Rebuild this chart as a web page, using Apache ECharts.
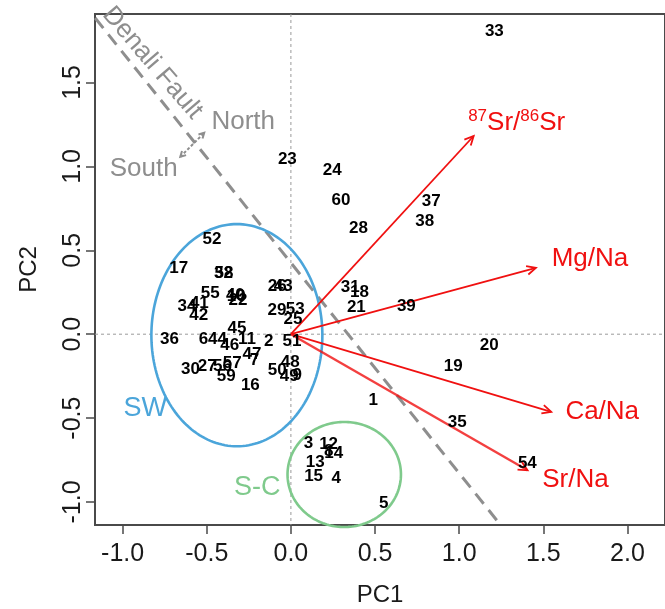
<!DOCTYPE html>
<html><head><meta charset="utf-8">
<script src="https://cdn.jsdelivr.net/npm/echarts@6/dist/echarts.min.js"></script>
<style>html,body{margin:0;padding:0;background:#fff}#c{width:665px;height:609px}</style>
</head><body><div id="c"></div>
<script>
// ---- data ----
const sampleIds = ['33','23','24','60','37','38','28','31','18','21','39','20','19','35','54','1','5','3','12','14','8','13','15','4',
  '52','17','32','58','55','34','41','42','40','10','22','26','43','29','53','25','45','36','6','44','46','11','2','51','47','7',
  '30','27','56','57','59','16','48','50','49','9'];
const samplePC1 = [1.209,-0.021,0.246,0.298,0.834,0.795,0.402,0.353,0.408,0.389,0.686,1.179,0.965,0.989,1.405,0.489,0.551,0.105,0.224,0.254,0.225,0.145,0.135,0.270,
  -0.469,-0.667,-0.400,-0.398,-0.479,-0.617,-0.544,-0.548,-0.330,-0.325,-0.314,-0.081,-0.045,-0.083,0.026,0.012,-0.320,-0.721,-0.519,-0.436,-0.364,-0.261,-0.132,0.006,-0.231,-0.216,
  -0.597,-0.497,-0.407,-0.348,-0.384,-0.241,-0.004,-0.081,-0.010,0.038];
const samplePC2 = [1.807,1.044,0.978,0.799,0.793,0.674,0.630,0.282,0.252,0.163,0.169,-0.066,-0.191,-0.525,-0.769,-0.394,-1.008,-0.648,-0.656,-0.711,-0.700,-0.761,-0.847,-0.860,
  0.565,0.392,0.362,0.365,0.243,0.167,0.185,0.113,0.233,0.225,0.203,0.286,0.283,0.143,0.147,0.088,0.034,-0.032,-0.032,-0.032,-0.066,-0.032,-0.040,-0.040,-0.121,-0.155,
  -0.209,-0.191,-0.191,-0.173,-0.250,-0.304,-0.165,-0.215,-0.250,-0.245];

const loadingNames = ['87Sr/86Sr','Mg/Na','Ca/Na','Sr/Na'];
const loadingPC1 = [1.086, 1.456, 1.547, 1.406];
const loadingPC2 = [1.181, 0.395, -0.463, -0.811];

const groupNames = ['SW','S-C'];
const groupCenterPC1 = [-0.321, 0.317];
const groupCenterPC2 = [-0.006, -0.836];
const groupRadiusPC1 = [0.508, 0.337];
const groupRadiusPC2 = [0.662, 0.313];
const groupLabelPC1 = [-0.865, -0.200];
const groupLabelPC2 = [-0.441, -0.912];

const faultPC1 = [-1.163, 1.238];
const faultPC2 = [1.884, -1.127];
const faultLabel = 'Denali Fault';
const faultLabelPC1 = -0.823, faultLabelPC2 = 1.616;
const compassNames = ['South','North'];
const compassArrowPC1 = [-0.657, -0.515];
const compassArrowPC2 = [1.057, 1.200];
const compassLabelPC1 = [-0.875, -0.283];
const compassLabelPC2 = [0.988, 1.266];

const xTicks = [-1.0,-0.5,0.0,0.5,1.0,1.5,2.0];
const yTicks = [-1.0,-0.5,0.0,0.5,1.0,1.5];
const xRange = [-1.164, 2.223];
const yRange = [-1.137, 1.908];

// ---- styles ----
const FONT = '"Liberation Sans", Arial, Helvetica, sans-serif';
const RED = '#f01010';
const GREY = '#8e8e8e';
const groupColors = ['#4ba5da', '#7fca8c'];
const loadingLabelOffsets = [[43,-14],[54,-9],[51,0],[48,10]];

function head(p0, p1, len, ang) {
  const a = Math.atan2(p1[1]-p0[1], p1[0]-p0[0]);
  return [[p1[0]-len*Math.cos(a-ang), p1[1]-len*Math.sin(a-ang)], [p1[0],p1[1]],
          [p1[0]-len*Math.cos(a+ang), p1[1]-len*Math.sin(a+ang)]];
}

const chart = echarts.init(document.getElementById('c'), null, {renderer:'canvas'});

const option = {
  animation: false,
  backgroundColor: '#fff',
  grid: {left: 95, top: 14, right: 0, bottom: 84, show: true, borderColor: '#4a4a4a', borderWidth: 2,
         containLabel: false, outerBoundsMode: 'none'},
  xAxis: {
    type: 'value', min: xRange[0], max: xRange[1],
    name: 'PC1', nameLocation: 'middle', nameGap: 58,
    nameTextStyle: {fontSize: 24, color: '#1a1a1a', fontFamily: FONT},
    axisLine: {show: true, onZero: false, lineStyle: {color: '#4a4a4a', width: 2}},
    axisTick: {show: true, length: 9, customValues: xTicks, lineStyle: {color: '#4a4a4a', width: 1.5}},
    axisLabel: {customValues: xTicks, formatter: v => Number(v).toFixed(1), fontSize: 25, color: '#1a1a1a',
                fontFamily: FONT, margin: 17},
    splitLine: {show: false}
  },
  yAxis: {
    type: 'value', min: yRange[0], max: yRange[1],
    name: 'PC2', nameLocation: 'middle', nameGap: 54, nameRotate: 90,
    nameTextStyle: {fontSize: 24, color: '#1a1a1a', fontFamily: FONT},
    axisLine: {show: true, onZero: false, lineStyle: {color: '#4a4a4a', width: 2}},
    axisTick: {show: true, length: 9, customValues: yTicks, lineStyle: {color: '#4a4a4a', width: 1.5}},
    axisLabel: {customValues: yTicks, formatter: v => Number(v).toFixed(1), fontSize: 25, color: '#1a1a1a',
                fontFamily: FONT, rotate: 90, margin: 9},
    splitLine: {show: false}
  },
  series: [
    { // zero reference lines
      type: 'custom', silent: true, data: [[0, 0]],
      renderItem: (params, api) => {
        const cs = params.coordSys;
        const o = api.coord([0, 0]);
        const st = {stroke: '#9a9a9a', lineWidth: 1, lineDash: [3, 3]};
        return {type: 'group', children: [
          {type: 'line', shape: {x1: o[0], y1: cs.y, x2: o[0], y2: cs.y + cs.height}, style: st},
          {type: 'line', shape: {x1: cs.x, y1: o[1], x2: cs.x + cs.width, y2: o[1]}, style: st}
        ]};
      }
    },
    { // Denali fault
      type: 'custom', silent: true, data: [[faultPC1[0], faultPC2[0], faultPC1[1], faultPC2[1]]],
      renderItem: (params, api) => {
        const a = api.coord([api.value(0), api.value(1)]);
        const b = api.coord([api.value(2), api.value(3)]);
        const t = api.coord([faultLabelPC1, faultLabelPC2]);
        return {type: 'group', children: [
          {type: 'line', shape: {x1: a[0], y1: a[1], x2: b[0], y2: b[1]},
           style: {stroke: GREY, lineWidth: 3, lineDash: [13, 8]}},
          {type: 'text', x: t[0], y: t[1], rotation: -0.86,
           style: {text: faultLabel, fill: GREY, fontSize: 26, fontFamily: FONT, align: 'center', verticalAlign: 'middle'}}
        ]};
      }
    },
    { // North / South
      type: 'custom', silent: true, data: [[compassArrowPC1[0], compassArrowPC2[0], compassArrowPC1[1], compassArrowPC2[1]]],
      renderItem: (params, api) => {
        const a = api.coord([api.value(0), api.value(1)]);
        const b = api.coord([api.value(2), api.value(3)]);
        const ch = [
          {type: 'line', shape: {x1: a[0], y1: a[1], x2: b[0], y2: b[1]}, style: {stroke: GREY, lineWidth: 2, lineDash: [3, 2]}},
          {type: 'polyline', shape: {points: head(a, b, 6, 0.5)}, style: {stroke: GREY, lineWidth: 2, fill: null}},
          {type: 'polyline', shape: {points: head(b, a, 6, 0.5)}, style: {stroke: GREY, lineWidth: 2, fill: null}}
        ];
        for (let i = 0; i < compassNames.length; i++) {
          const p = api.coord([compassLabelPC1[i], compassLabelPC2[i]]);
          ch.push({type: 'text', x: p[0], y: p[1], style: {text: compassNames[i], fill: GREY, fontSize: 26,
                   fontFamily: FONT, align: 'center', verticalAlign: 'middle'}});
        }
        return {type: 'group', children: ch};
      }
    },
    { // group ellipses
      type: 'custom', silent: true,
      data: groupNames.map((n, i) => [groupCenterPC1[i], groupCenterPC2[i], groupRadiusPC1[i], groupRadiusPC2[i], groupLabelPC1[i], groupLabelPC2[i]]),
      renderItem: (params, api) => {
        const i = params.dataIndex;
        const cx = api.value(0), cy = api.value(1), rx = api.value(2), ry = api.value(3);
        const pts = [];
        for (let k = 0; k < 180; k++) {
          const t = k / 180 * Math.PI * 2;
          pts.push(api.coord([cx + rx * Math.cos(t), cy + ry * Math.sin(t)]));
        }
        const lp = api.coord([api.value(4), api.value(5)]);
        return {type: 'group', children: [
          {type: 'polygon', shape: {points: pts}, style: {stroke: groupColors[i], lineWidth: 2.6, fill: null}},
          {type: 'text', x: lp[0], y: lp[1], style: {text: groupNames[i], fill: groupColors[i], fontSize: 27,
           fontFamily: FONT, align: 'center', verticalAlign: 'middle'}}
        ]};
      }
    },
    { // loadings arrows
      type: 'custom', silent: true,
      data: loadingNames.map((n, i) => [loadingPC1[i], loadingPC2[i]]),
      renderItem: (params, api) => {
        const i = params.dataIndex;
        const o = api.coord([0, 0]);
        const p = api.coord([api.value(0), api.value(1)]);
        const off = loadingLabelOffsets[i];
        const name = loadingNames[i];
        let textStyle;
        if (name === '87Sr/86Sr') {
          textStyle = {text: '{s|87}{n|Sr/}{s|86}{n|Sr}', rich: {
              s: {fontSize: 17, fill: RED, fontFamily: FONT, verticalAlign: 'top', lineHeight: 28},
              n: {fontSize: 26, fill: RED, fontFamily: FONT, verticalAlign: 'bottom', lineHeight: 28}},
            align: 'center', verticalAlign: 'middle'};
        } else {
          textStyle = {text: name, fill: RED, fontSize: 26, fontFamily: FONT, align: 'center', verticalAlign: 'middle'};
        }
        return {type: 'group', children: [
          {type: 'line', shape: {x1: o[0], y1: o[1], x2: p[0], y2: p[1]},
           style: {stroke: RED, lineWidth: i === 3 ? 2.4 : 1.8, opacity: i === 3 ? 0.8 : 1}},
          {type: 'polyline', shape: {points: head(o, p, 10, 0.45)}, style: {stroke: RED, lineWidth: 1.8, fill: null}},
          {type: 'text', x: p[0] + off[0], y: p[1] + off[1], style: textStyle}
        ]};
      }
    },
    { // sample labels
      type: 'custom', silent: true,
      data: sampleIds.map((id, i) => [samplePC1[i], samplePC2[i]]),
      renderItem: (params, api) => {
        const p = api.coord([api.value(0), api.value(1)]);
        return {type: 'text', x: p[0], y: p[1], style: {text: sampleIds[params.dataIndex], fill: '#000',
                fontSize: 17, fontWeight: 'bold', fontFamily: FONT, align: 'center', verticalAlign: 'middle'}};
      }
    }
  ]
};
chart.setOption(option);
</script>
</body></html>
